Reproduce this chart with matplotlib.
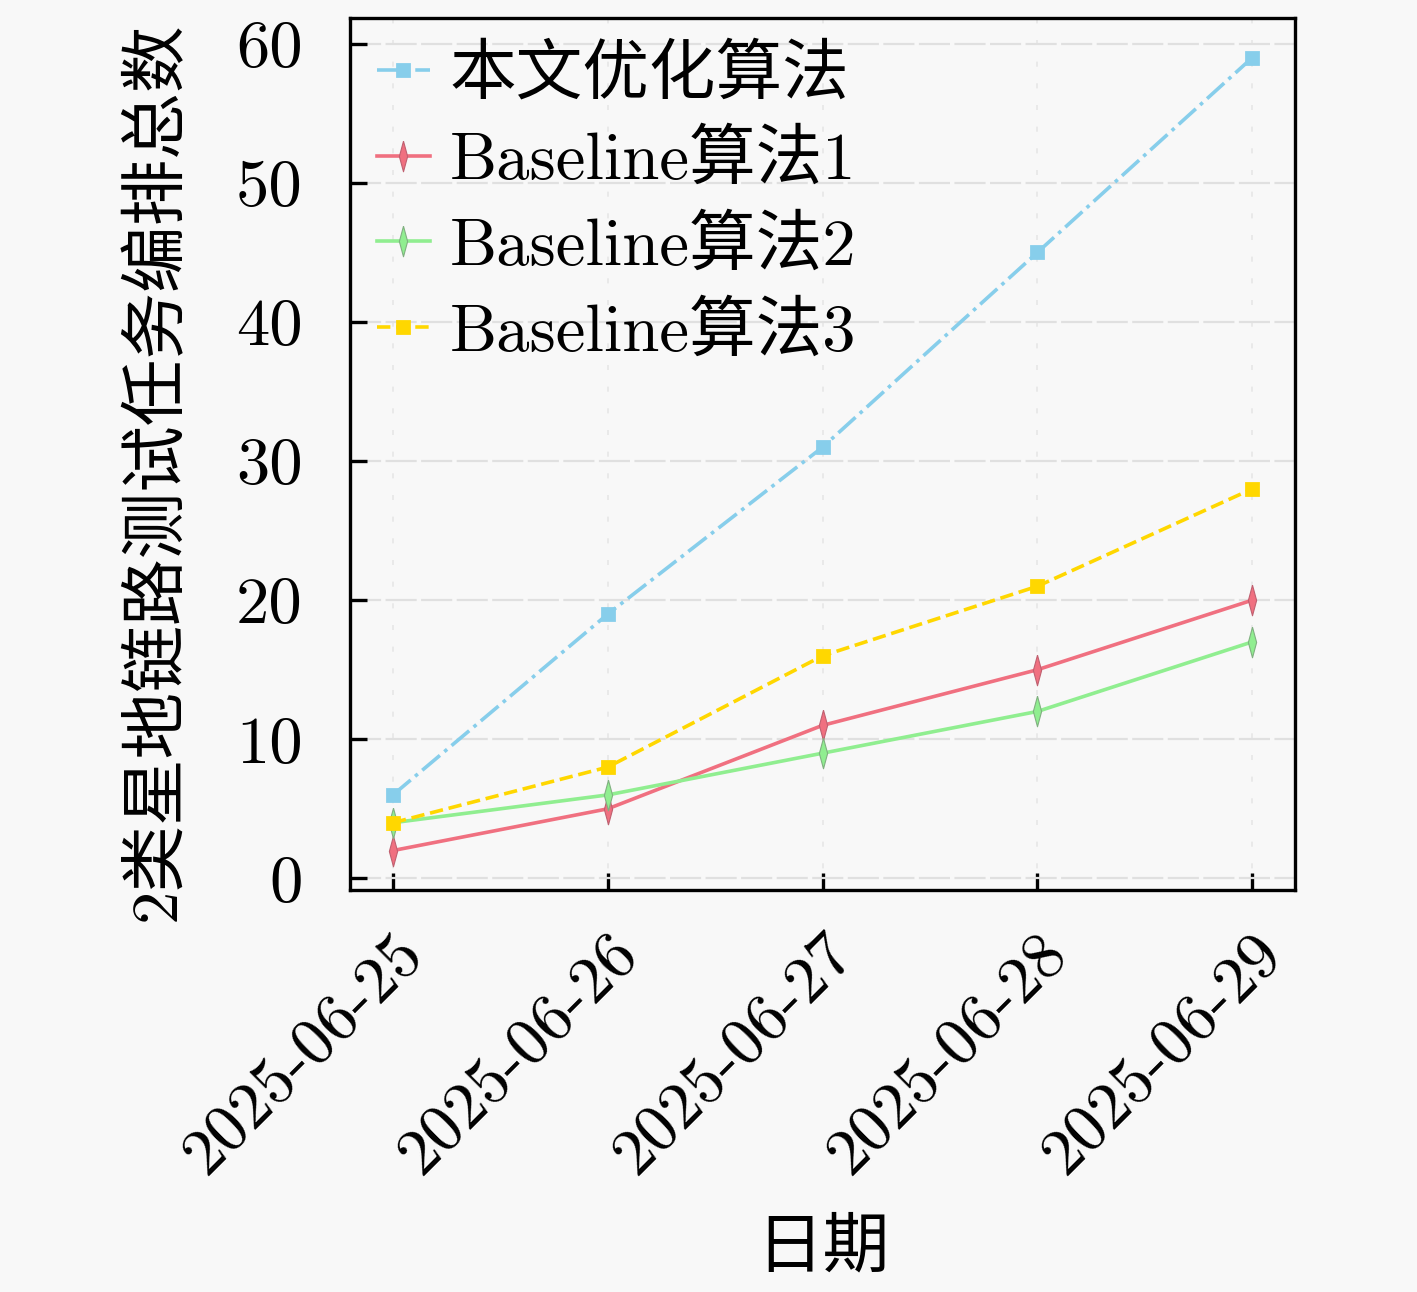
import matplotlib
matplotlib.use('Agg')
import matplotlib.pyplot as plt

# data
dates = ['2025-06-25', '2025-06-26', '2025-06-27', '2025-06-28', '2025-06-29']
ours = [6, 19, 31, 45, 59]
base1 = [2, 5, 11, 15, 20]
base2 = [4, 6, 9, 12, 17]
base3 = [4, 8, 16, 21, 28]
yticks = [0, 10, 20, 30, 40, 50, 60]

plt.rcParams['font.family'] = ['cmr10', 'Noto Sans CJK SC', 'DejaVu Sans']
plt.rcParams['mathtext.fontset'] = 'cm'
plt.rcParams['axes.formatter.use_mathtext'] = True
plt.rcParams['font.size'] = 24

bg = '#f8f8f8'
fig = plt.figure(figsize=(7.085, 6.46), dpi=200, facecolor=bg)
ax = fig.add_axes([0.247, 0.311, 0.667, 0.675], facecolor=bg)

thin_diamond = [(0, 1), (0.27, 0), (0, -1), (-0.27, 0), (0, 1)]
x = list(range(len(dates)))

ax.plot(x, ours, color='#87ceeb', ls='-.', lw=1.3, marker='s', ms=4, label='本文优化算法')
ax.plot(x, base1, color='#f07080', ls='-', lw=1.3, marker=thin_diamond, ms=11,
        mec='#c06070', mfc='#f07080', mew=0.4, label='Baseline算法1')
ax.plot(x, base2, color='#90ee90', ls='-', lw=1.3, marker=thin_diamond, ms=11,
        mec='#80b080', mfc='#90ee90', mew=0.4, label='Baseline算法2')
ax.plot(x, base3, color='#ffd700', ls='--', lw=1.3, marker='s', ms=4.5, label='Baseline算法3')

ax.set_xticks(x, dates, rotation=45, ha='right', rotation_mode='anchor')
ax.set_yticks(yticks, [str(v) for v in yticks])
ax.tick_params(direction='in', length=6, width=1.2, top=False, right=False)
ax.tick_params(axis='y', pad=17)
ax.tick_params(axis='x', pad=12)
ax.grid(True, axis='y', ls=(0, (14, 2)), color='#e0e0e0', lw=0.8)
ax.grid(True, axis='x', ls=(0, (3, 10)), color='#e6e6e6', lw=0.6)
ax.set_axisbelow(True)
for s in ax.spines.values():
    s.set_linewidth(1.2)

ax.set_ylabel('2类星地链路测试任务编排总数')
ax.yaxis.set_label_coords(-0.172, 0.48)
ax.set_xlabel('日期', labelpad=12)

ax.legend(loc='upper left', frameon=False, handlelength=0.8, handletextpad=0.3,
          labelspacing=0.36, borderaxespad=0.1, borderpad=0.3)

fig.savefig('out.png', dpi=200, facecolor=bg)
